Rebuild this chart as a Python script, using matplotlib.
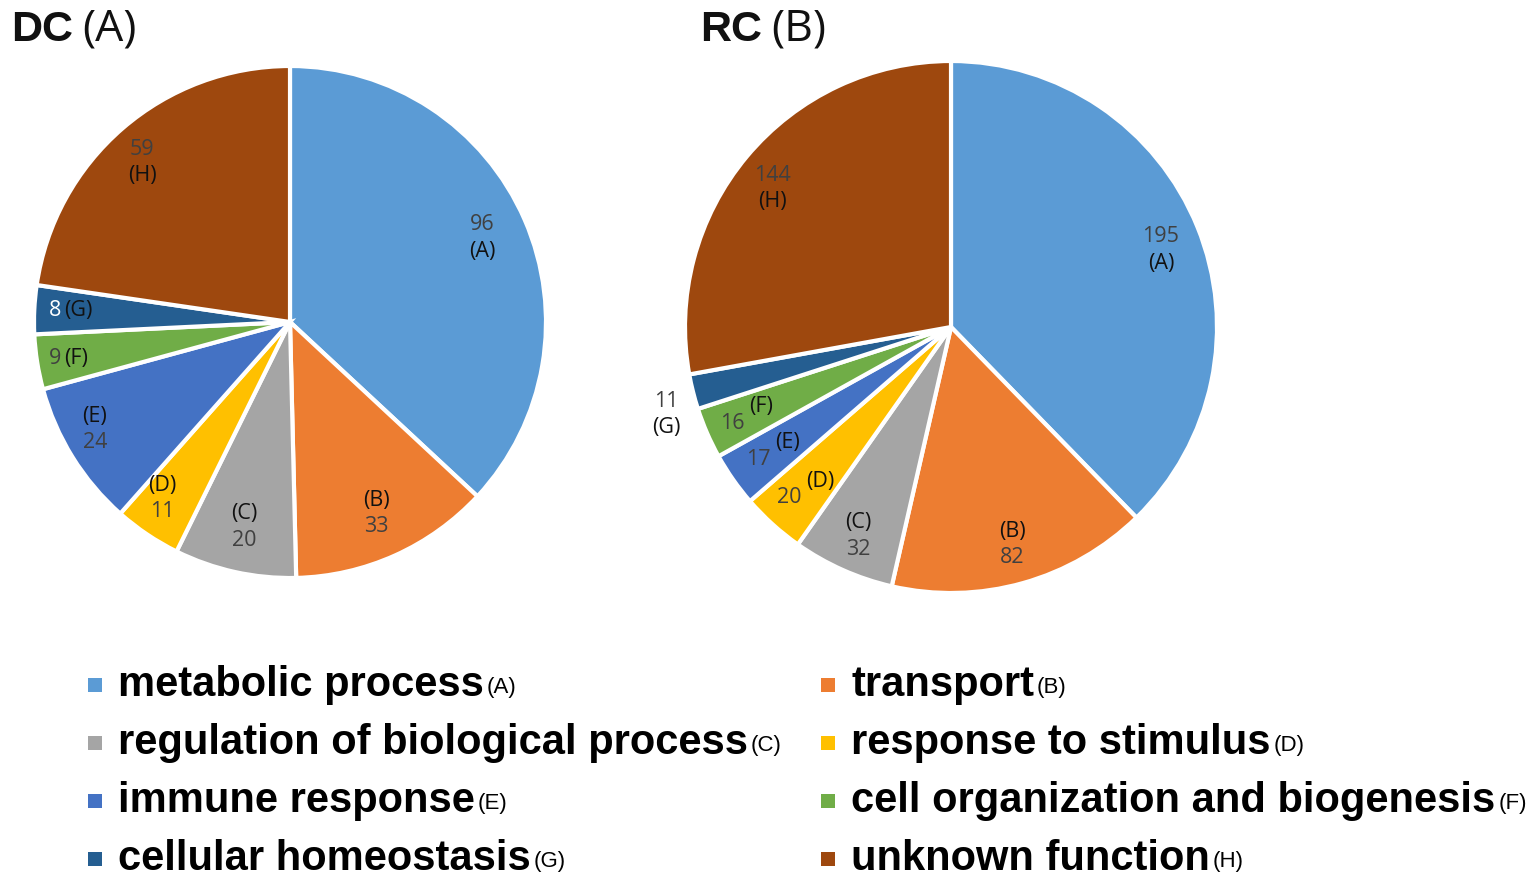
import matplotlib
matplotlib.use('Agg')
import matplotlib.pyplot as plt
from matplotlib import font_manager
import numpy as np

# data
categories = ['metabolic process', 'transport', 'regulation of biological process',
              'response to stimulus', 'immune response', 'cell organization and biogenesis',
              'cellular homeostasis', 'unknown function']
letters = ['(A)', '(B)', '(C)', '(D)', '(E)', '(F)', '(G)', '(H)']
dc_counts = [96, 33, 20, 11, 24, 9, 8, 59]
rc_counts = [195, 82, 32, 20, 17, 16, 11, 144]
colors = ['#5B9BD5', '#ED7D31', '#A5A5A5', '#FFC000',
          '#4472C4', '#70AD47', '#255E91', '#9E480E']

W, H = 1535, 880
fig = plt.figure(figsize=(W / 100, H / 100), dpi=100)

names = {f.name for f in font_manager.fontManager.ttflist}
legend_font = 'Liberation Sans Narrow' if 'Liberation Sans Narrow' in names else 'Liberation Sans'
label_font = 'Open Sans'


def px_axes(cx, cy, r):
    return fig.add_axes([(cx - r) / W, (H - cy - r) / H, 2 * r / W, 2 * r / H])


def draw_pie(ax, counts, radii, shifts, modes, value_colors):
    wedges, _ = ax.pie(counts, colors=colors, startangle=90, counterclock=False,
                       wedgeprops=dict(edgecolor='white', linewidth=3))
    ax.set_xlim(-1, 1)
    ax.set_ylim(-1, 1)
    ax.axis('off')
    for w, n, let, rf, sh, mode, vc in zip(wedges, counts, letters, radii, shifts,
                                           modes, value_colors):
        th = np.deg2rad((w.theta1 + w.theta2) / 2 + sh)
        xy = (rf * np.cos(th), rf * np.sin(th))
        kw = dict(xycoords='data', textcoords='offset points', fontsize=15.5,
                  family=label_font, annotation_clip=False)
        if mode == 'vl':
            ax.annotate(str(n), xy, xytext=(0, 9.5), ha='center', va='center', color=vc, **kw)
            ax.annotate(let, xy, xytext=(0, -9.5), ha='center', va='center', color='#111111', **kw)
        elif mode == 'lv':
            ax.annotate(let, xy, xytext=(0, 9.5), ha='center', va='center', color='#111111', **kw)
            ax.annotate(str(n), xy, xytext=(0, -9.5), ha='center', va='center', color=vc, **kw)
        elif mode == 'inline':
            ax.annotate(str(n), xy, xytext=(-1, 0), ha='right', va='center', color=vc, **kw)
            ax.annotate(let, xy, xytext=(1, 0), ha='left', va='center', color='#111111', **kw)
        else:  # step
            ax.annotate(str(n), xy, xytext=(-1, -5), ha='right', va='center', color=vc, **kw)
            ax.annotate(let, xy, xytext=(2, 7), ha='left', va='center', color='#111111', **kw)


ax1 = px_axes(290, 322, 256)
draw_pie(ax1, dc_counts,
         [0.82, 0.82, 0.82, 0.85, 0.87, 0.90, 0.89, 0.85],
         [0, 0, 0, -2, -3, 0, 0, 2],
         ['vl', 'lv', 'lv', 'lv', 'lv', 'inline', 'inline', 'vl'],
         ['#404040'] * 6 + ['white', '#404040'])

ax2 = px_axes(951, 327, 266)
draw_pie(ax2, rc_counts,
         [0.84, 0.85, 0.86, 0.83, 0.82, 0.84, 1.12, 0.85],
         [-2, 0, 0, 0, 0, 0, 3, 2],
         ['vl', 'lv', 'lv', 'step', 'step', 'step', 'vl', 'vl'],
         ['#404040'] * 8)

# overlay in pixel coords for titles and legend
ov = fig.add_axes([0, 0, 1, 1], zorder=5)
ov.set_xlim(0, W)
ov.set_ylim(H, 0)
ov.axis('off')
fig.canvas.draw()
rend = fig.canvas.get_renderer()


def text_right(t):
    bb = t.get_window_extent(renderer=rend)
    return bb.x1


def draw_title(x, main, sub):
    t = ov.text(x, 41, main, fontsize=31, fontweight='bold', family='Liberation Sans',
                va='baseline', ha='left', color='#111111')
    xr = text_right(t)
    ov.text(xr + 9, 41, sub, fontsize=32, family=label_font, va='baseline', ha='left',
            color='#111111')


draw_title(11, 'DC', '(A)')
draw_title(700, 'RC', '(B)')

# fit legend font size to the widest entry
probe = ov.text(0, 0, categories[2], fontsize=30, fontweight='bold', family=legend_font)
bb = probe.get_window_extent(renderer=rend)
leg_size = 30 * 630 / bb.width
probe.remove()

row_y = [696, 754, 812, 870]
col_x = [95, 828]
for i, (cat, let, col) in enumerate(zip(categories, letters, colors)):
    cx = col_x[i % 2]
    y = row_y[i // 2]
    ov.scatter([cx], [y - 11], marker='s', s=110, color=col, edgecolors='none')
    t = ov.text(cx + 23, y, cat, fontsize=leg_size, fontweight='bold', family=legend_font,
                va='baseline', ha='left', color='black')
    xr = text_right(t)
    ov.text(xr + 3, y - 3, let, fontsize=16, family=legend_font, va='baseline', ha='left',
            color='black')

fig.savefig('out.png', dpi=100)
